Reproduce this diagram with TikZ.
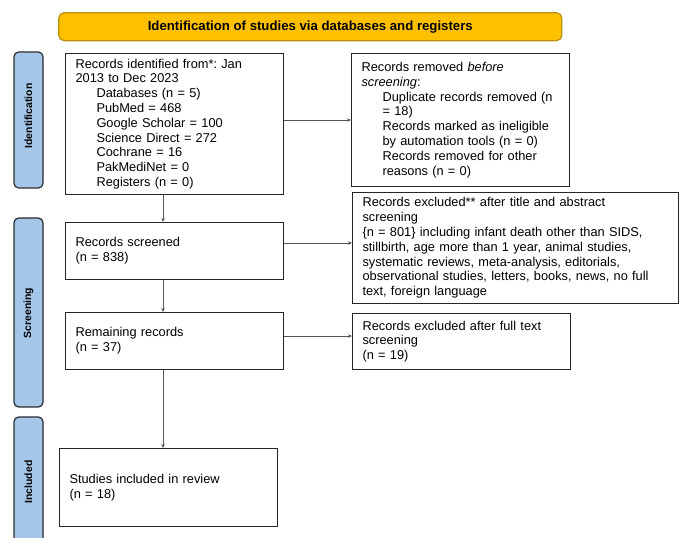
\documentclass[tikz,border=0pt]{standalone}
\usepackage{fontspec}
\setmainfont{Liberation Sans}
\usetikzlibrary{arrows.meta}
\definecolor{bargold}{HTML}{FFC000}
\definecolor{bargoldline}{HTML}{B8900A}
\definecolor{sideblue}{HTML}{A4C6E8}
\definecolor{sideline}{HTML}{2B2B2B}
\definecolor{arrowgray}{HTML}{555555}
\tikzset{
  flowbox/.style={draw=black!85, line width=0.8pt, rectangle, anchor=north west,
    inner xsep=7.5pt, inner ysep=0pt, align=left,
    font=\fontsize{9.6}{11.1}\selectfont\frenchspacing},
  sidebar/.style={draw=sideline, fill=sideblue, line width=0.9pt, rounded corners=3.5pt},
  sidetext/.style={rotate=90, font=\bfseries\fontsize{7.8}{9}\selectfont},
  flow/.style={draw=arrowgray, line width=0.6pt, -{Stealth[length=3pt,width=2.6pt]}},
}
\newcommand{\ind}{\hspace*{15.75pt}}
\begin{document}
\begin{tikzpicture}[x=0.75pt,y=-0.75pt]
\useasboundingbox (0,0) rectangle (683,538);
% title bar
\node[draw=bargoldline, fill=bargold, line width=0.9pt, rounded corners=4pt,
  minimum width=377.25pt, minimum height=21pt, inner sep=0pt,
  font=\bfseries\fontsize{9.9}{11}\selectfont] (title) at (310.3,26.7)
  {Identification of studies via databases and registers};
% side bars
\begin{scope}
\clip (0,0) rectangle (683,538);
\draw[sidebar] (14,52) rectangle (43,188);
\draw[sidebar] (14,218) rectangle (43,407);
\draw[sidebar] (14,417) rectangle (43,560);
\end{scope}
\node[sidetext] (lid) at (28.5,116) {Identification};
\node[sidetext] (lsc) at (28.5,313) {Screening};
\node[sidetext] (lin) at (28.5,482) {Included};
% boxes
\node[flowbox, minimum width=163.5pt, minimum height=105.75pt, text width=148.5pt] (b1) at (65,53)
{Records identified from*: Jan\\
2013 to Dec 2023\\
\ind Databases (n = 5)\\
\ind PubMed = 468\\
\ind Google Scholar = 100\\
\ind Science Direct = 272\\
\ind Cochrane = 16\\
\ind PakMediNet = 0\\
\ind Registers (n = 0)};
\node[flowbox, minimum width=163.5pt, minimum height=99.75pt, text width=148.5pt] (rem) at (351,53)
{Records removed \emph{before}\\
\emph{screening}:\\
\ind Duplicate records removed (n\\
\ind = 18)\\
\ind Records marked as ineligible\\
\ind by automation tools (n = 0)\\
\ind Records removed for other\\
\ind reasons (n = 0)};
\node[flowbox, minimum width=163.5pt, minimum height=42.75pt, text width=148.5pt] (scr) at (65,222)
{Records screened\\(n = 838)};
\node[flowbox, minimum width=244.5pt, minimum height=83.25pt, text width=229.5pt] (exc) at (352,192)
{Records excluded** after title and abstract\\
screening\\
\{n = 801\} including infant death other than SIDS,\\
stillbirth, age more than 1 year, animal studies,\\
systematic reviews, meta-analysis, editorials,\\
observational studies, letters, books, news, no full\\
text, foreign language};
\node[flowbox, minimum width=163.5pt, minimum height=42.75pt, text width=148.5pt] (rmn) at (65,312)
{Remaining records\\(n = 37)};
\node[flowbox, minimum width=163.5pt, minimum height=42pt, text width=148.5pt] (ful) at (352,313)
{Records excluded after full text\\screening\\(n = 19)};
\node[flowbox, minimum width=163.5pt, minimum height=58.5pt, text width=148.5pt] (inc) at (59,448)
{Studies included in review\\(n = 18)};
% connectors
\coordinate (col) at (163,0);
\coordinate (h1) at (0,120);
\coordinate (h2) at (0,243);
\coordinate (h3) at (0,336);
\draw[flow] (b1.south -| col) -- (scr.north -| col);
\draw[flow] (scr.south -| col) -- (rmn.north -| col);
\draw[flow] (rmn.south -| col) -- (inc.north -| col);
\draw[flow] (b1.east |- h1) -- (rem.west |- h1);
\draw[flow] (scr.east |- h2) -- (exc.west |- h2);
\draw[flow] (rmn.east |- h3) -- (ful.west |- h3);
\end{tikzpicture}
\end{document}
